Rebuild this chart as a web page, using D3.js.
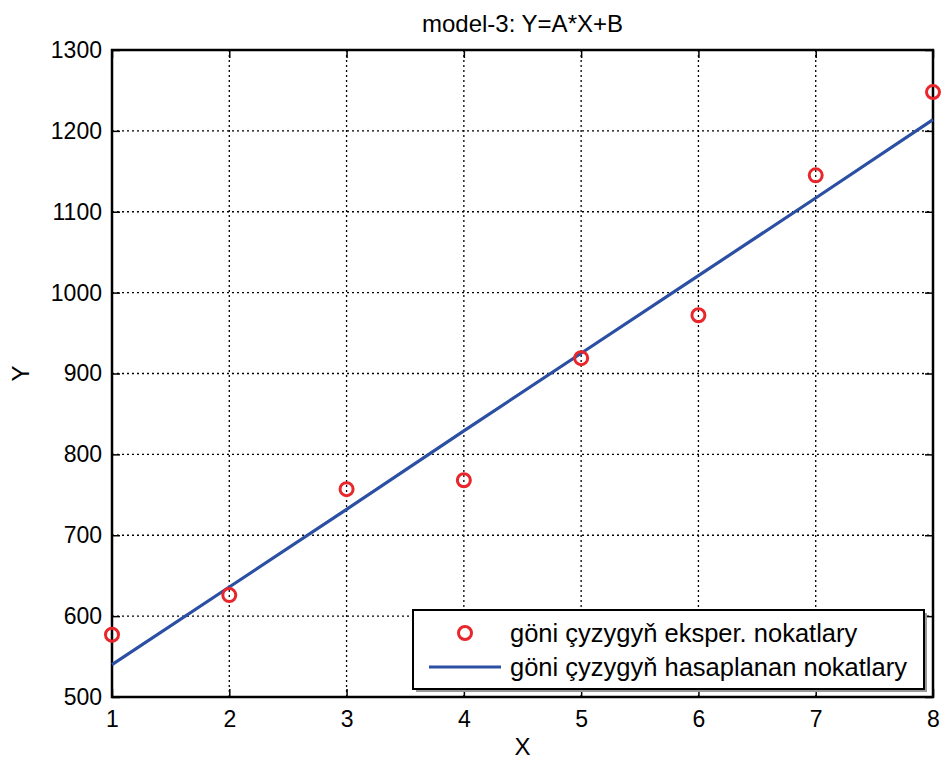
<!DOCTYPE html>
<html>
<head>
<meta charset="utf-8">
<script src="https://cdn.jsdelivr.net/npm/d3@7"></script>
<style>
  html, body { margin: 0; padding: 0; background: #fff; }
  svg { display: block; font-family: "Liberation Sans", Arial, sans-serif; }
</style>
</head>
<body>
<svg id="chart" width="941" height="760"></svg>
<script>
const titleText = "model-3: Y=A*X+B";
const xLabel = "X";
const yLabel = "Y";
const xTicks = [1, 2, 3, 4, 5, 6, 7, 8];
const yTicks = [500, 600, 700, 800, 900, 1000, 1100, 1200, 1300];
const expX = [1, 2, 3, 4, 5, 6, 7, 8];
const expY = [577, 626, 757, 768, 919, 972, 1145, 1248];
const fitX = [1, 2, 3, 4, 5, 6, 7, 8];
const fitY = [540, 636, 732, 829, 925, 1021, 1117, 1214];
const legendLabels = ["göni çyzygyň eksper. nokatlary", "göni çyzygyň hasaplanan nokatlary"];

const svg = d3.select("#chart");
const L = 112, R = 933, T = 50, B = 697;
const fsTick = 23, fs = 24, fsLeg = 25.5;
const x = d3.scaleLinear().domain([1, 8]).range([L, R]);
const y = d3.scaleLinear().domain([500, 1300]).range([B, T]);

// grid
const grid = svg.append("g").attr("stroke", "#000").attr("stroke-width", 1.3).attr("stroke-dasharray", "2,3");
grid.selectAll("line.gx").data(xTicks.slice(1, -1)).enter().append("line")
  .attr("x1", d => x(d)).attr("x2", d => x(d)).attr("y1", T).attr("y2", B);
grid.selectAll("line.gy").data(yTicks.slice(1, -1)).enter().append("line")
  .attr("y1", d => y(d)).attr("y2", d => y(d)).attr("x1", L).attr("x2", R);

// axes (ticks inward)
const tl = 8;
const axB = svg.append("g").attr("transform", `translate(0,${B})`)
  .call(d3.axisBottom(x).tickValues(xTicks).tickSize(-tl).tickPadding(14).tickFormat(d3.format("d")));
const axT = svg.append("g").attr("transform", `translate(0,${T})`)
  .call(d3.axisTop(x).tickValues(xTicks).tickSize(-tl).tickFormat(""));
const axL = svg.append("g").attr("transform", `translate(${L},0)`)
  .call(d3.axisLeft(y).tickValues(yTicks).tickSize(-tl).tickPadding(10).tickFormat(d3.format("d")));
const axR = svg.append("g").attr("transform", `translate(${R},0)`)
  .call(d3.axisRight(y).tickValues(yTicks).tickSize(-tl).tickFormat(""));
[axB, axT, axL, axR].forEach(a => {
  a.select(".domain").remove();
  a.selectAll(".tick line").attr("stroke", "#000").attr("stroke-width", 1.5);
  a.selectAll("text").attr("font-size", fsTick).attr("fill", "#000").attr("font-family", "Liberation Sans, Arial, sans-serif");
});

// frame
svg.append("rect").attr("x", L).attr("y", T).attr("width", R - L).attr("height", B - T)
  .attr("fill", "none").attr("stroke", "#000").attr("stroke-width", 2.5);

// fitted line
const line = d3.line().x((d, i) => x(fitX[i])).y(d => y(d));
svg.append("path").datum(fitY).attr("d", line)
  .attr("fill", "none").attr("stroke", "#2b4fa3").attr("stroke-width", 3.2);

// experimental points
svg.append("g").selectAll("circle").data(expY).enter().append("circle")
  .attr("cx", (d, i) => x(expX[i])).attr("cy", d => y(d)).attr("r", 6.5)
  .attr("fill", "none").attr("stroke", "#e8262b").attr("stroke-width", 3);

// title and labels
svg.append("text").attr("x", (L + R) / 2).attr("y", 32).attr("text-anchor", "middle")
  .attr("font-size", fs).text(titleText);
svg.append("text").attr("x", (L + R) / 2).attr("y", 755).attr("text-anchor", "middle")
  .attr("font-size", fs).text(xLabel);
svg.append("text").attr("transform", `translate(29,${(T + B) / 2}) rotate(-90)`).attr("text-anchor", "middle")
  .attr("font-size", fs).text(yLabel);

// legend
const lg = svg.append("g");
const lx = 413, ly = 610, lw = 511, lh = 79;
lg.append("rect").attr("x", lx + 3).attr("y", ly + 3).attr("width", lw).attr("height", lh).attr("fill", "#999");
lg.append("rect").attr("x", lx).attr("y", ly).attr("width", lw).attr("height", lh)
  .attr("fill", "#fff").attr("stroke", "#000").attr("stroke-width", 2);
lg.append("circle").attr("cx", 465).attr("cy", 633).attr("r", 6.5)
  .attr("fill", "none").attr("stroke", "#e8262b").attr("stroke-width", 3);
lg.append("line").attr("x1", 429).attr("x2", 501).attr("y1", 667).attr("y2", 667)
  .attr("stroke", "#2b4fa3").attr("stroke-width", 3.2);
lg.selectAll("text").data(legendLabels).enter().append("text")
  .attr("x", 510).attr("y", (d, i) => 642 + i * 34).attr("font-size", fsLeg).text(d => d);
</script>
</body>
</html>
